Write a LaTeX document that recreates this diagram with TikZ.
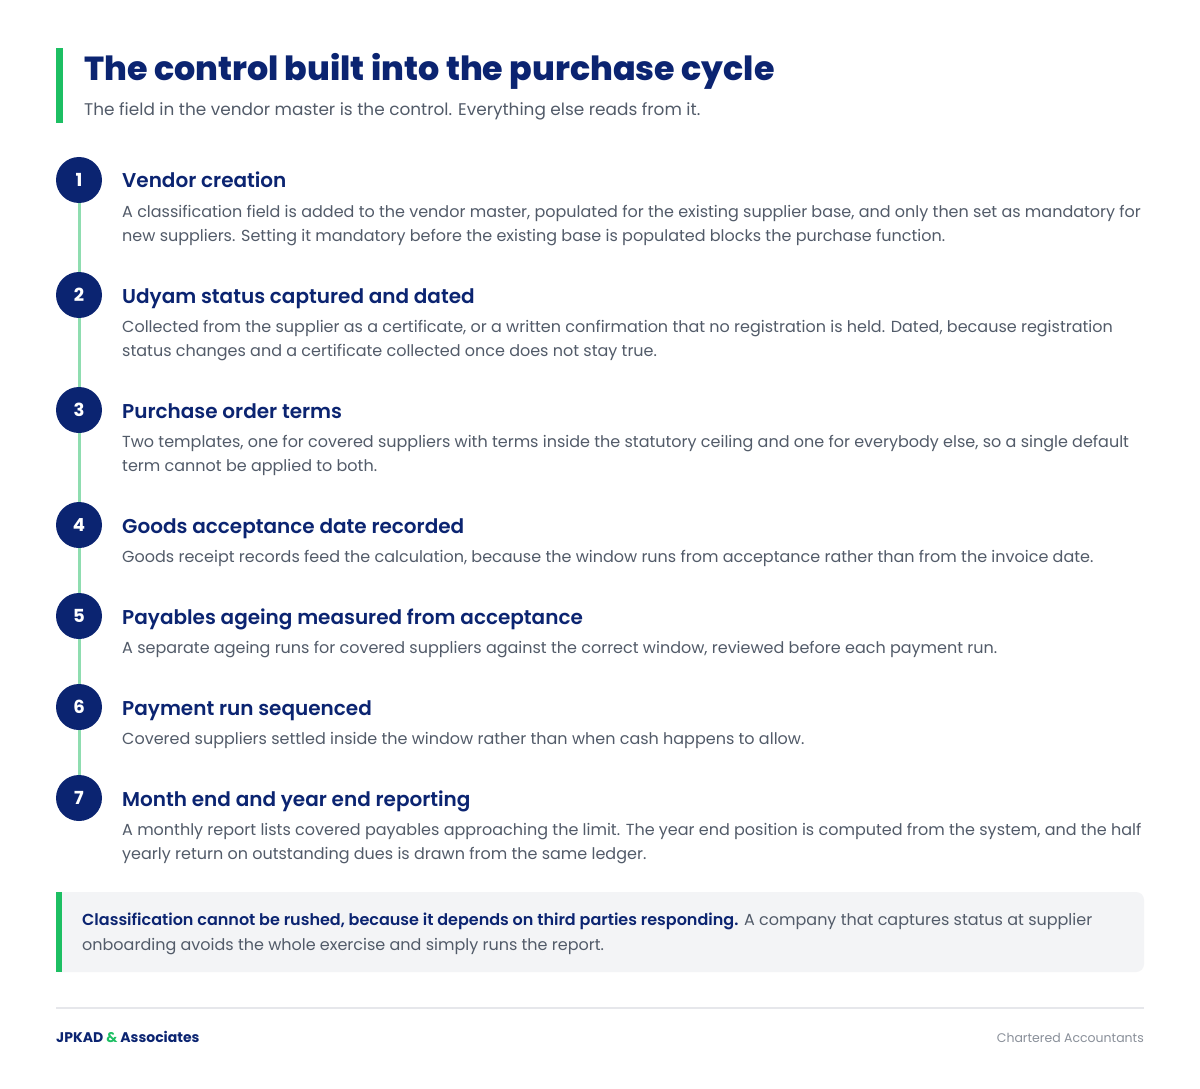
\documentclass[tikz,border=0pt]{standalone}
\usepackage{fontspec}
\setmainfont{Poppins}
\newfontfamily\xbold{Poppins ExtraBold}
\newfontfamily\sbold{Poppins SemiBold}
\definecolor{navy}{HTML}{0B2471}
\definecolor{brandgreen}{HTML}{1DBF63}
\definecolor{linegreen}{HTML}{8FDDB0}
\definecolor{bodygray}{HTML}{525B69}
\definecolor{boxfill}{HTML}{F3F4F6}
\definecolor{rulegray}{HTML}{E6E7EB}
\definecolor{footgray}{HTML}{8A909A}
\begin{document}
\begin{tikzpicture}[x=1pt,y=-1pt,
  stepnum/.style={circle,fill=navy,minimum size=46pt,inner sep=0pt,text=white,font=\fontsize{18}{18}\selectfont\bfseries},
  steptitle/.style={anchor=base west,inner sep=0pt,text=navy,font=\fontsize{20}{24}\sbold},
  stepbody/.style={anchor=base west,inner sep=0pt,text=bodygray,align=left,font=\fontsize{16}{24}\selectfont},
]
\useasboundingbox[fill=white] (0,0) rectangle (1200,1089);
% header
\fill[brandgreen] (56,48) rectangle (63,123);
\node[anchor=base west,inner sep=0pt,text=navy,font=\fontsize{33.3}{40}\xbold] (title) at (84,81) {The control built into the purchase cycle};
\node[anchor=base west,inner sep=0pt,text=bodygray,font=\fontsize{16.9}{20}\selectfont] (sub) at (84,116) {The field in the vendor master is the control. Everything else reads from it.};
% timeline line
\coordinate (ltop) at (79,180);
\coordinate (lbot) at (79,798);
\draw[linegreen,line width=3pt] (ltop) -- (lbot);
% steps
\node[stepnum] (n1) at (79,180) {1};
\node[stepnum] (n2) at (79,295) {2};
\node[stepnum] (n3) at (79,410) {3};
\node[stepnum] (n4) at (79,525) {4};
\node[stepnum] (n5) at (79,616) {5};
\node[stepnum] (n6) at (79,707) {6};
\node[stepnum] (n7) at (79,798) {7};

\node[steptitle] (t1) at (122,188) {Vendor creation};
\node[stepbody] (b1) at (122,241) {A classification field is added to the vendor master, populated for the existing supplier base, and only then set as mandatory for\\new suppliers. Setting it mandatory before the existing base is populated blocks the purchase function.};

\node[steptitle] (t2) at (122,303) {Udyam status captured and dated};
\node[stepbody] (b2) at (122,356) {Collected from the supplier as a certificate, or a written confirmation that no registration is held. Dated, because registration\\status changes and a certificate collected once does not stay true.};

\node[steptitle] (t3) at (122,418) {Purchase order terms};
\node[stepbody] (b3) at (122,471) {Two templates, one for covered suppliers with terms inside the statutory ceiling and one for everybody else, so a single default\\term cannot be applied to both.};

\node[steptitle] (t4) at (122,533) {Goods acceptance date recorded};
\node[stepbody] (b4) at (122,562) {Goods receipt records feed the calculation, because the window runs from acceptance rather than from the invoice date.};

\node[steptitle] (t5) at (122,624) {Payables ageing measured from acceptance};
\node[stepbody] (b5) at (122,653) {A separate ageing runs for covered suppliers against the correct window, reviewed before each payment run.};

\node[steptitle] (t6) at (122,715) {Payment run sequenced};
\node[stepbody] (b6) at (122,744) {Covered suppliers settled inside the window rather than when cash happens to allow.};

\node[steptitle] (t7) at (122,806) {Month end and year end reporting};
\node[stepbody] (b7) at (122,859) {A monthly report lists covered payables approaching the limit. The year end position is computed from the system, and the half\\yearly return on outstanding dues is drawn from the same ledger.};

% callout
\fill[boxfill,rounded corners=8pt] (50,892) rectangle (1144,972);
\fill[brandgreen] (56,892) rectangle (62,972);
\fill[white] (40,880) rectangle (56,985);
\node[anchor=base west,inner sep=0pt,text=bodygray,align=left,font=\fontsize{16}{25}\selectfont] (call) at (82,950) {{\color{navy}\sbold Classification cannot be rushed, because it depends on third parties responding.} A company that captures status at supplier\\onboarding avoids the whole exercise and simply runs the report.};

% footer
\coordinate (rl) at (56,1008);
\coordinate (rr) at (1144,1008);
\draw[rulegray,line width=2pt] (rl) -- (rr);
\node[anchor=base west,inner sep=0pt,text=navy,font=\fontsize{14}{16}\bfseries] (brand) at (56,1042) {JPKAD {\color{brandgreen}\&} Associates};
\node[anchor=base east,inner sep=0pt,text=footgray,font=\fontsize{12.5}{15}\selectfont] (tag) at (1144,1042) {Chartered Accountants};
\end{tikzpicture}
\end{document}
